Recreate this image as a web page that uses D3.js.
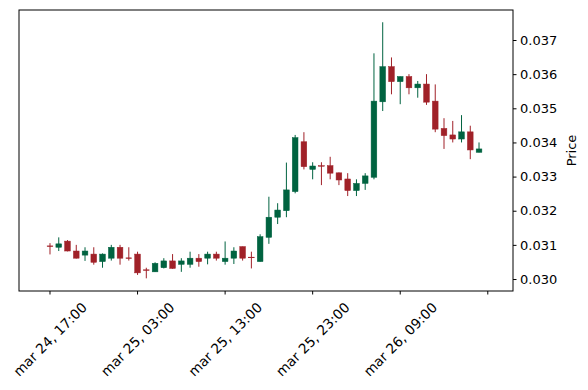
<head>
<meta charset="utf-8">
<script src="https://d3js.org/d3.v7.min.js"></script>
<style>
	body { margin: 0; background: #fff; }
	svg text { font-family: "DejaVu Sans", sans-serif; fill: #000; }
</style>
</head>
<body>
<svg width="588" height="390" id="chart"></svg>
<script>

	// hourly candles, mar 24 17:00 .. mar 26 18:00
	var opens = [0.03097, 0.03093, 0.03111, 0.03082, 0.03070, 0.03073, 0.03051, 0.03061, 0.03093, 0.03062,
		0.03073, 0.03027, 0.03021, 0.03033, 0.03053, 0.03043, 0.03043, 0.03061, 0.03061, 0.03073,
		0.03051, 0.03061, 0.03095, 0.03064, 0.03051, 0.03122, 0.03181, 0.03200, 0.03256, 0.03402,
		0.03321, 0.03332, 0.03332, 0.03311, 0.03293, 0.03259, 0.03280, 0.03298, 0.03519, 0.03622,
		0.03578, 0.03593, 0.03560, 0.03571, 0.03521, 0.03441, 0.03422, 0.03410, 0.03431, 0.03371];
	var highs = [0.03105, 0.03122, 0.03114, 0.03100, 0.03093, 0.03093, 0.03075, 0.03100, 0.03100, 0.03093,
		0.03080, 0.03033, 0.03049, 0.03061, 0.03073, 0.03061, 0.03080, 0.03073, 0.03080, 0.03080,
		0.03110, 0.03093, 0.03095, 0.03080, 0.03131, 0.03241, 0.03222, 0.03341, 0.03422, 0.03430,
		0.03342, 0.03342, 0.03358, 0.03312, 0.03310, 0.03292, 0.03310, 0.03661, 0.03752, 0.03649,
		0.03593, 0.03600, 0.03580, 0.03600, 0.03570, 0.03471, 0.03463, 0.03480, 0.03449, 0.03400];
	var lows = [0.03072, 0.03082, 0.03081, 0.03060, 0.03053, 0.03042, 0.03033, 0.03054, 0.03042, 0.03054,
		0.03012, 0.03002, 0.03021, 0.03031, 0.03030, 0.03021, 0.03033, 0.03036, 0.03043, 0.03054,
		0.03042, 0.03044, 0.03054, 0.03031, 0.03051, 0.03103, 0.03161, 0.03181, 0.03251, 0.03321,
		0.03292, 0.03275, 0.03292, 0.03275, 0.03243, 0.03243, 0.03261, 0.03292, 0.03492, 0.03541,
		0.03512, 0.03541, 0.03531, 0.03510, 0.03430, 0.03381, 0.03400, 0.03400, 0.03351, 0.03371];
	var closes = [0.03095, 0.03103, 0.03082, 0.03061, 0.03082, 0.03049, 0.03073, 0.03093, 0.03061, 0.03060,
		0.03018, 0.03025, 0.03046, 0.03053, 0.03031, 0.03053, 0.03061, 0.03051, 0.03073, 0.03061,
		0.03061, 0.03082, 0.03061, 0.03063, 0.03124, 0.03181, 0.03202, 0.03261, 0.03414, 0.03329,
		0.03331, 0.03331, 0.03310, 0.03290, 0.03259, 0.03280, 0.03302, 0.03521, 0.03622, 0.03578,
		0.03593, 0.03560, 0.03571, 0.03518, 0.03439, 0.03420, 0.03410, 0.03431, 0.03378, 0.03381];

	var xTickIndex = [0, 10, 20, 30, 40, 50];
	var xTickLabels = ["mar 24, 17:00", "mar 25, 03:00", "mar 25, 13:00", "mar 25, 23:00", "mar 26, 09:00", ""];
	var yTicks = [0.030, 0.031, 0.032, 0.033, 0.034, 0.035, 0.036, 0.037];

	var upColor = "#006340", downColor = "#a02128";

	var svg = d3.select("#chart"),
		margin = {top: 10, right: 75, bottom: 99, left: 19},
		width = +svg.attr("width") - margin.left - margin.right,
		height = +svg.attr("height") - margin.top - margin.bottom;

	var data = opens.map((o, i) => ({i: i, o: o, h: highs[i], l: lows[i], c: closes[i]}));

	var x = d3.scaleLinear()
		.domain([-3.54, 52.88])
		.range([margin.left, margin.left + width]);

	var y = d3.scaleLinear()
		.domain([0.029649, 0.037879])
		.range([margin.top + height, margin.top]);

	var bw = x(0.65) - x(0);

	var candles = svg.append("g").selectAll("g")
		.data(data)
		.enter().append("g")
		.attr("fill", d => d.c >= d.o ? upColor : downColor)
		.attr("stroke", d => d.c >= d.o ? upColor : downColor);

	candles.append("line")
		.attr("x1", d => x(d.i))
		.attr("x2", d => x(d.i))
		.attr("y1", d => y(d.h))
		.attr("y2", d => y(d.l))
		.attr("stroke-width", 1);

	candles.append("rect")
		.attr("x", d => x(d.i) - bw / 2)
		.attr("width", bw)
		.attr("y", d => y(Math.max(d.o, d.c)))
		.attr("height", d => Math.max(0.6, Math.abs(y(d.o) - y(d.c))))
		.attr("stroke-width", 0.5);

	// frame
	svg.append("rect")
		.attr("x", margin.left)
		.attr("y", margin.top)
		.attr("width", width)
		.attr("height", height)
		.attr("fill", "none")
		.attr("stroke", "#000")
		.attr("stroke-width", 1);

	// right price axis
	var yAxis = svg.append("g")
		.attr("transform", "translate(" + (margin.left + width) + ",0)")
		.call(d3.axisRight(y).tickValues(yTicks).tickFormat(d3.format(".3f")).tickSize(3.5).tickPadding(3.5));
	yAxis.select(".domain").remove();
	yAxis.selectAll("text").attr("font-size", 13).attr("font-family", "DejaVu Sans");
	yAxis.selectAll("line").attr("stroke", "#000");

	svg.append("text")
		.attr("transform", "translate(576," + (margin.top + height / 2) + ") rotate(-90)")
		.attr("text-anchor", "middle")
		.attr("font-size", 13)
		.text("Price");

	// bottom time axis
	var bottom = margin.top + height;
	var xt = svg.append("g").selectAll("g")
		.data(xTickIndex)
		.enter().append("g");

	xt.append("line")
		.attr("x1", d => x(d))
		.attr("x2", d => x(d))
		.attr("y1", bottom)
		.attr("y2", bottom + 3.5)
		.attr("stroke", "#000");

	xt.append("text")
		.attr("font-size", 13.7)
		.attr("text-anchor", "middle")
		.attr("dominant-baseline", "central")
		.text((d, i) => xTickLabels[i])
		.attr("transform", function(d) {
			var w = this.getComputedTextLength(), h = 13.7;
			var off = (w + h) * Math.SQRT1_2 / 2;
			return "translate(" + x(d) + "," + (bottom + 9 + off) + ") rotate(-45)";
		});

</script>
</body>
